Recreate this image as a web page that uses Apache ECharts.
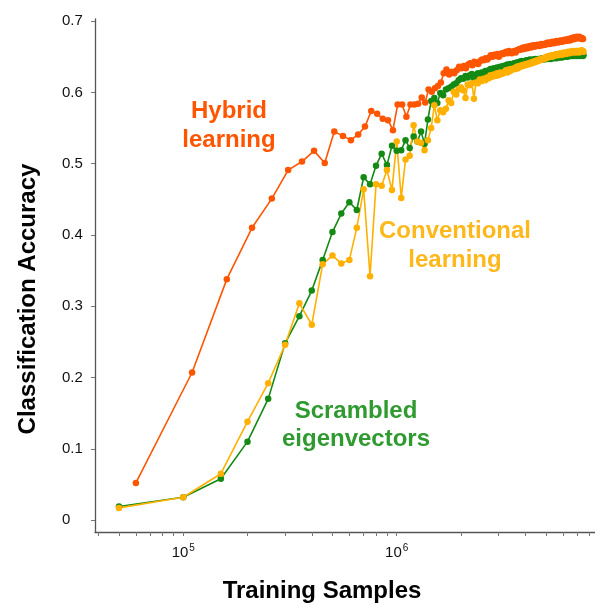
<!DOCTYPE html>
<html>
<head>
<meta charset="utf-8">
<script src="https://cdn.jsdelivr.net/npm/echarts@6/dist/echarts.min.js"></script>
<style>
  html, body { margin: 0; padding: 0; background: #ffffff; }
  #chart { width: 595px; height: 605px; }
</style>
</head>
<body>
<div id="chart"></div>
<script>
// Training-set sizes: every run is sampled on a regular grid of 50,000 samples.
const hybridFirstSample = 60000;
const conventionalFirstSample = 50000;
const sampleStep = 50000;

// Classification accuracy, hybrid learning (starts at 6e4 samples)
const hybridAcc = [
  0.052, 0.207, 0.338, 0.410, 0.451, 0.491, 0.503, 0.518, 0.501, 0.545,
  0.539, 0.533, 0.541, 0.552, 0.574, 0.570, 0.563, 0.561, 0.547, 0.583,
  0.583, 0.566, 0.583, 0.583, 0.584, 0.593, 0.586, 0.604, 0.601, 0.606,
  0.609, 0.614, 0.627, 0.632, 0.625, 0.629, 0.627, 0.631, 0.636, 0.634,
  0.637, 0.634, 0.639, 0.641, 0.638, 0.643, 0.641, 0.640, 0.644, 0.646,
  0.645, 0.648, 0.646, 0.649, 0.652, 0.650, 0.653, 0.651, 0.654, 0.650,
  0.653, 0.655, 0.654, 0.656, 0.657, 0.655, 0.658, 0.656, 0.655, 0.657,
  0.658, 0.656, 0.659, 0.660, 0.661, 0.660, 0.662, 0.663, 0.661, 0.663,
  0.664, 0.662, 0.664, 0.665, 0.663, 0.665, 0.666, 0.664, 0.666, 0.665,
  0.667, 0.666, 0.665, 0.667, 0.668, 0.666, 0.667, 0.668, 0.667, 0.669,
  0.668, 0.670, 0.669, 0.668, 0.670, 0.669, 0.671, 0.670, 0.669, 0.671,
  0.670, 0.672, 0.671, 0.670, 0.672, 0.671, 0.673, 0.672, 0.671, 0.673,
  0.672, 0.674, 0.673, 0.672, 0.674, 0.673, 0.675, 0.674, 0.673, 0.675,
  0.676, 0.674, 0.675, 0.677, 0.676, 0.675, 0.677, 0.676, 0.678, 0.677,
  0.676, 0.677, 0.678, 0.676, 0.677, 0.676, 0.675, 0.676, 0.675
];

// Scrambled eigenvectors (starts at 5e4 samples)
const scrambledAcc = [
  0.019, 0.032, 0.058, 0.110, 0.170, 0.248, 0.286, 0.322, 0.365, 0.404,
  0.430, 0.446, 0.435, 0.481, 0.471, 0.497, 0.514, 0.498, 0.525, 0.518,
  0.519, 0.533, 0.522, 0.538, 0.531, 0.545, 0.528, 0.562, 0.588, 0.592,
  0.585, 0.599, 0.596, 0.604, 0.606, 0.608, 0.611, 0.613, 0.617, 0.620,
  0.619, 0.623, 0.621, 0.624, 0.626, 0.619, 0.624, 0.627, 0.625, 0.628,
  0.627, 0.630, 0.629, 0.631, 0.633, 0.632, 0.634, 0.633, 0.635, 0.634,
  0.636, 0.635, 0.637, 0.636, 0.638, 0.639, 0.637, 0.640, 0.639, 0.640,
  0.641, 0.640, 0.642, 0.641, 0.643, 0.642, 0.644, 0.643, 0.642, 0.644,
  0.645, 0.643, 0.644, 0.646, 0.645, 0.644, 0.646, 0.645, 0.647, 0.646,
  0.645, 0.647, 0.646, 0.647, 0.646, 0.648, 0.647, 0.646, 0.648, 0.647,
  0.648, 0.647, 0.649, 0.648, 0.647, 0.649, 0.648, 0.649, 0.648, 0.650,
  0.649, 0.648, 0.650, 0.649, 0.650, 0.649, 0.651, 0.650, 0.649, 0.651,
  0.650, 0.651, 0.650, 0.652, 0.651, 0.650, 0.652, 0.651, 0.652, 0.651,
  0.652, 0.651, 0.653, 0.652, 0.651, 0.652, 0.653, 0.652, 0.651, 0.653,
  0.652, 0.653, 0.652, 0.651, 0.653, 0.652, 0.653, 0.652, 0.651, 0.652
];

// Conventional learning (starts at 5e4 samples)
const conventionalAcc = [
  0.017, 0.032, 0.065, 0.138, 0.192, 0.246, 0.304, 0.274, 0.359, 0.371,
  0.360, 0.365, 0.410, 0.464, 0.342, 0.471, 0.469, 0.491, 0.463, 0.531,
  0.452, 0.506, 0.511, 0.554, 0.531, 0.529, 0.519, 0.533, 0.550, 0.582,
  0.561, 0.575, 0.572, 0.577, 0.589, 0.585, 0.601, 0.597, 0.604, 0.607,
  0.603, 0.592, 0.611, 0.610, 0.613, 0.591, 0.614, 0.613, 0.618, 0.616,
  0.619, 0.617, 0.621, 0.620, 0.624, 0.622, 0.625, 0.623, 0.627, 0.624,
  0.628, 0.626, 0.627, 0.629, 0.631, 0.628, 0.632, 0.630, 0.633, 0.632,
  0.634, 0.633, 0.636, 0.634, 0.637, 0.636, 0.638, 0.637, 0.639, 0.638,
  0.640, 0.639, 0.641, 0.640, 0.642, 0.641, 0.643, 0.642, 0.644, 0.643,
  0.645, 0.644, 0.646, 0.645, 0.647, 0.646, 0.648, 0.647, 0.649, 0.648,
  0.650, 0.649, 0.651, 0.650, 0.651, 0.652, 0.650, 0.652, 0.651, 0.653,
  0.652, 0.654, 0.653, 0.652, 0.654, 0.653, 0.655, 0.654, 0.653, 0.655,
  0.654, 0.656, 0.655, 0.654, 0.656, 0.655, 0.657, 0.656, 0.655, 0.657,
  0.656, 0.657, 0.658, 0.656, 0.657, 0.658, 0.657, 0.656, 0.658, 0.657,
  0.658, 0.657, 0.656, 0.658, 0.657, 0.658, 0.659, 0.657, 0.658, 0.657
];

// Axis ticks
const yTicks = [0, 0.1, 0.2, 0.3, 0.4, 0.5, 0.6, 0.7];
const xLabelTicks = [1e5, 1e6];
const xAllTicks = [
  4e4, 5e4, 6e4, 7e4, 8e4, 9e4,
  1e5, 2e5, 3e5, 4e5, 5e5, 6e5, 7e5, 8e5, 9e5,
  1e6, 2e6, 3e6, 4e6, 5e6, 6e6, 7e6, 8e6
];

// Sample-count range shown on the logarithmic x axis
const xRange = [3.86e4, 8.49e6];
const yRange = [-0.0168, 0.703];

const colors = {
  hybrid: '#ff5500',
  conventional: '#ffb000',
  scrambled: '#148a14',
  scrambledText: '#2f9a2f'
};

// The x axis is plotted in log10(samples) so that the grid is logarithmic.
function toPoints(values, first) {
  return values.map((v, i) => [Math.log10(first + i * sampleStep), v]);
}

const textFont = '"Liberation Sans", Arial, Helvetica, sans-serif';

const chart = echarts.init(document.getElementById('chart'), null, { renderer: 'canvas' });

const lineSeries = (name, values, first, color) => ({
  name,
  type: 'line',
  data: toPoints(values, first),
  symbol: 'circle',
  symbolSize: 6.5,
  showSymbol: true,
  showAllSymbol: true,
  lineStyle: { color, width: 1.6 },
  itemStyle: { color },
  emphasis: { disabled: true },
  animation: false
});

chart.setOption({
  backgroundColor: '#ffffff',
  animation: false,
  grid: {
    left: 95, right: 0, top: 19, bottom: 73,
    containLabel: false,
    outerBoundsMode: 'none'
  },
  xAxis: {
    type: 'value',
    min: Math.log10(xRange[0]),
    max: Math.log10(xRange[1]),
    splitLine: { show: false },
    axisLine: { show: true, onZero: false, lineStyle: { color: '#555555', width: 1.3 } },
    axisTick: {
      show: true,
      customValues: xAllTicks.map(v => Math.log10(v)),
      length: 4,
      lineStyle: { color: '#777777', width: 1 }
    },
    axisLabel: {
      customValues: xLabelTicks.map(v => Math.log10(v)),
      margin: 11,
      formatter: v => '{b|10}{s|' + Math.round(v) + '}',
      rich: {
        b: { fontSize: 15, fontFamily: textFont, color: '#111111', lineHeight: 18 },
        s: { fontSize: 10, fontFamily: textFont, color: '#111111', padding: [0, 0, 9, 1] }
      }
    }
  },
  yAxis: {
    type: 'value',
    min: yRange[0],
    max: yRange[1],
    splitLine: { show: false },
    axisLine: { show: true, onZero: false, lineStyle: { color: '#555555', width: 1.3 } },
    axisTick: {
      show: true,
      customValues: yTicks,
      length: 4,
      lineStyle: { color: '#777777', width: 1 }
    },
    axisLabel: {
      customValues: yTicks,
      margin: 33,
      align: 'left',
      fontSize: 15,
      fontFamily: textFont,
      color: '#111111',
      formatter: v => (Math.abs(v) < 1e-9 ? '0' : v.toFixed(1))
    }
  },
  series: [
    lineSeries('Scrambled eigenvectors', scrambledAcc, conventionalFirstSample, colors.scrambled),
    lineSeries('Conventional learning', conventionalAcc, conventionalFirstSample, colors.conventional),
    lineSeries('Hybrid learning', hybridAcc, hybridFirstSample, colors.hybrid)
  ],
  graphic: [
    {
      type: 'text', x: 28, y: 299, rotation: Math.PI / 2,
      style: {
        text: 'Classification Accuracy', fill: '#000000',
        font: 'bold 24px ' + textFont, align: 'center', verticalAlign: 'middle'
      }
    },
    {
      type: 'text', x: 322, y: 591,
      style: {
        text: 'Training Samples', fill: '#000000',
        font: 'bold 24px ' + textFont, align: 'center', verticalAlign: 'middle'
      }
    },
    {
      type: 'text', x: 229, y: 126,
      style: {
        text: 'Hybrid\nlearning', fill: colors.hybrid, lineHeight: 29,
        font: 'bold 24px ' + textFont, align: 'center', verticalAlign: 'middle'
      }
    },
    {
      type: 'text', x: 455, y: 246,
      style: {
        text: 'Conventional\nlearning', fill: '#ffb81c', lineHeight: 29,
        font: 'bold 24px ' + textFont, align: 'center', verticalAlign: 'middle'
      }
    },
    {
      type: 'text', x: 356, y: 425,
      style: {
        text: 'Scrambled\neigenvectors', fill: colors.scrambledText, lineHeight: 28,
        font: 'bold 24px ' + textFont, align: 'center', verticalAlign: 'middle'
      }
    }
  ]
});
</script>
</body>
</html>
